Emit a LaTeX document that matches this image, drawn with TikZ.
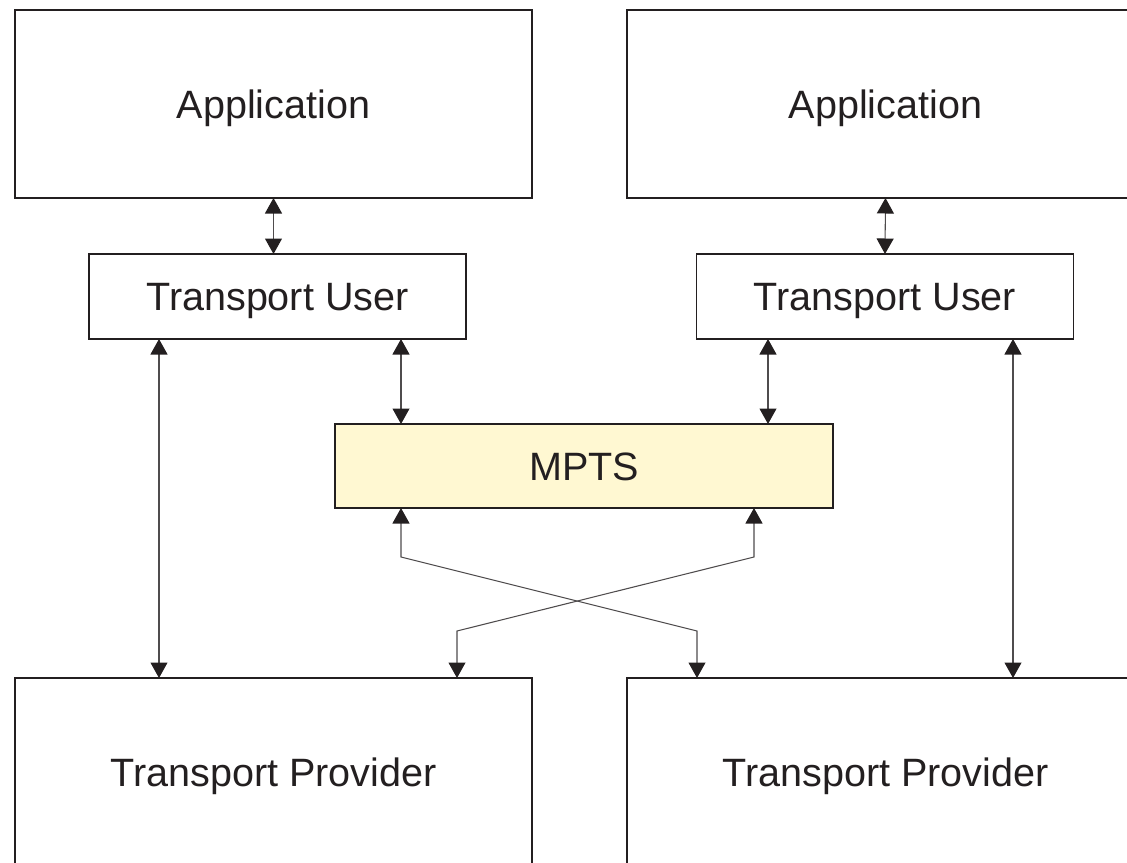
\documentclass[tikz,border=0pt]{standalone}
\usepackage{fontspec}
\setmainfont{Liberation Sans}
\usetikzlibrary{arrows.meta}

\definecolor{inkdark}{HTML}{231F20}
\definecolor{mptsfill}{HTML}{FFF8D2}

\tikzset{
  layer/.style={draw=inkdark, line width=1.1pt, fill=white, inner sep=0pt, outer sep=0pt,
    text=inkdark, font=\fontsize{22.5}{27}\selectfont, text height=16.1pt, text depth=0pt},
  bigbox/.style={layer, minimum width=10.34cm, minimum height=3.76cm},
  userbox/.style={layer, minimum width=7.54cm, minimum height=1.7cm},
  conn/.style={draw=inkdark!80, line width=0.6pt,
    {Triangle[width=0.34cm,length=0.31cm,color=inkdark]}-{Triangle[width=0.34cm,length=0.31cm,color=inkdark]}},
}

\begin{document}
\begin{tikzpicture}
  \useasboundingbox (0,0) rectangle (22.54,-17.26);
  \clip (0,0) rectangle (22.54,-17.26);

  % layers
  \node[bigbox] (appl) at (5.47,-2.08) {Application};
  \node[bigbox] (appr) at (17.71,-2.08) {Application};
  \node[userbox] (tul) at (5.55,-5.93) {Transport User};
  \node[userbox] (tur) at (17.7,-5.93) {Transport User};
  \node[layer, fill=mptsfill, minimum width=9.96cm, minimum height=1.68cm] (mpts) at (11.68,-9.32) {MPTS};
  \node[bigbox] (tpl) at (5.47,-15.44) {Transport Provider};
  \node[bigbox] (tpr) at (17.71,-15.44) {Transport Provider};

  % application <-> transport user
  \draw[conn] (appl.south) -- (appl.south |- tul.north);
  \draw[conn] (appr.south) -- (tur.north);

  % transport user <-> provider and MPTS
  \draw[conn] ([xshift=-2.37cm]tul.south) -- ([xshift=-2.37cm]tul.south |- tpl.north);
  \draw[conn] ([xshift=2.47cm]tul.south) -- ([xshift=2.47cm]tul.south |- mpts.north);
  \draw[conn] ([xshift=-2.34cm]tur.south) -- ([xshift=-2.34cm]tur.south |- mpts.north);
  \draw[conn] ([xshift=2.56cm]tur.south) -- ([xshift=2.56cm]tur.south |- tpr.north);

  % MPTS <-> providers, crossing
  \draw[conn] ([xshift=-3.66cm]mpts.south) -- ++(0,-0.98)
    -- ([xshift=-3.77cm,yshift=0.94cm]tpr.north) -- ([xshift=-3.77cm]tpr.north);
  \draw[conn] ([xshift=3.40cm]mpts.south) -- ++(0,-0.98)
    -- ([xshift=3.67cm,yshift=0.94cm]tpl.north) -- ([xshift=3.67cm]tpl.north);
\end{tikzpicture}
\end{document}
